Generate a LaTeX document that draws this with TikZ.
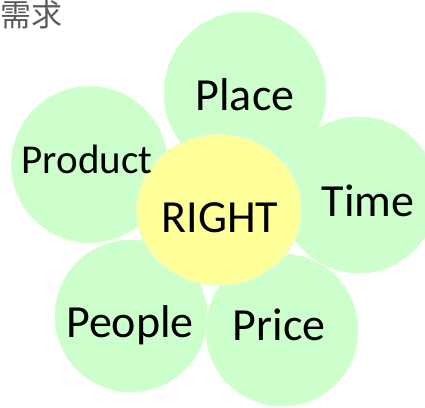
\documentclass[tikz,border=0pt]{standalone}
\usepackage{fontspec}
\setmainfont{Carlito}
\newfontfamily\cjk{Noto Sans CJK SC}
\definecolor{petal}{HTML}{CCFFCC}
\definecolor{petalline}{HTML}{D8FFD0}
\definecolor{core}{HTML}{FFFF99}
\definecolor{coreline}{HTML}{EEFFBB}
\definecolor{titlegray}{HTML}{5A5A5A}
\tikzset{
  petalbox/.style={circle, fill=petal, draw=petalline, line width=1pt, inner sep=0pt},
  corebox/.style={ellipse, fill=core, draw=coreline, line width=2pt, inner sep=0pt},
  lbl/.style={anchor=base, inner sep=0pt, font=\fontsize{46}{50}\selectfont},
}
\usetikzlibrary{shapes.geometric}
\begin{document}
\begin{tikzpicture}[x=1pt,y=-1pt]
\useasboundingbox (0,0) rectangle (425,407);
\begin{scope}
\clip (0,0) rectangle (425,407);
\node[petalbox, minimum size=162pt] (place) at (245,93) {};
\node[petalbox, minimum size=156pt] (product) at (89.5,164.5) {};
\node[petalbox, minimum size=156pt] (time) at (359,195) {};
\node[petalbox, minimum size=152pt] (people) at (131,316) {};
\node[petalbox, minimum size=152pt] (price) at (282,330) {};
\node[corebox, minimum width=164pt, minimum height=150pt] (right) at (219,210) {};
\end{scope}
\node[lbl] (tplace) at (245,110) {Place};
\node[lbl, font=\fontsize{41}{45}\selectfont] (tproduct) at (87,173) {Product};
\node[lbl] (ttime) at (368,216) {Time};
\node[lbl] (tright) at (220,232) {RIGHT};
\node[lbl] (tpeople) at (130,337) {People};
\node[lbl] (tprice) at (279,340) {Price};
\node[anchor=base west, inner sep=0pt, text=titlegray, font=\cjk\fontsize{31}{33}\selectfont] (title) at (0,26) {需求};
\end{tikzpicture}
\end{document}
